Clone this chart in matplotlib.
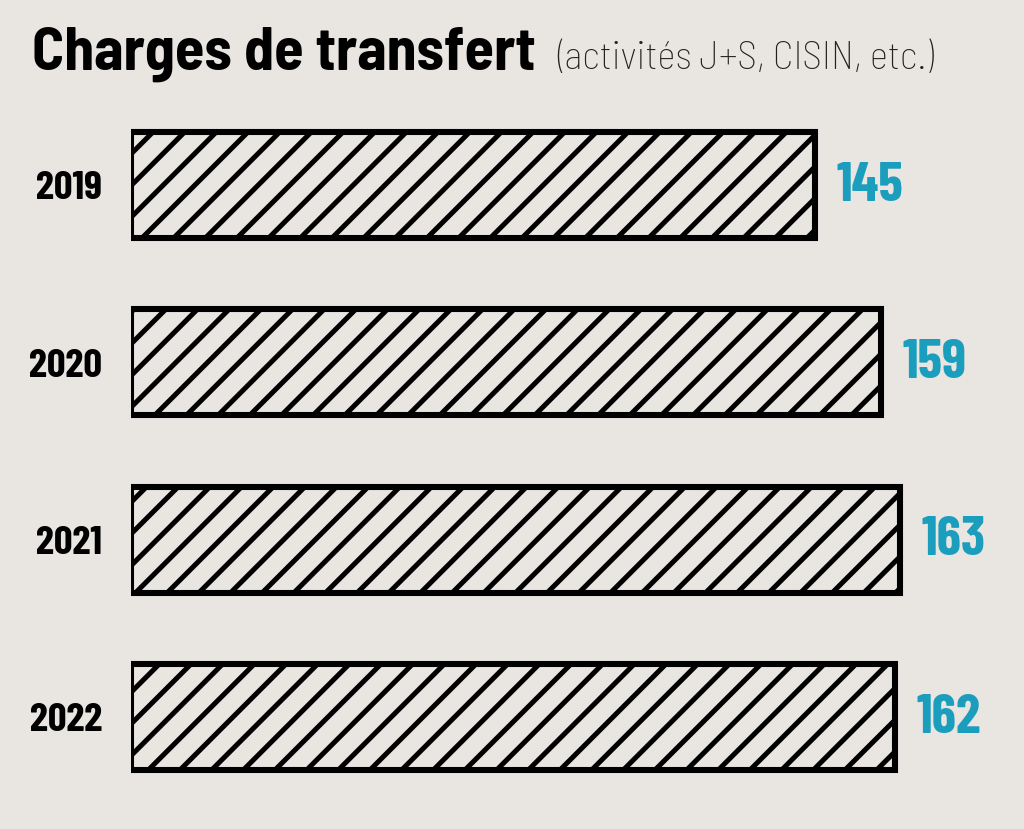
import matplotlib
matplotlib.use('Agg')
import matplotlib.pyplot as plt

# data
years = ['2019', '2020', '2021', '2022']
values = [145, 159, 163, 162]

bg = '#e9e5e1'
teal = '#1b9dbd'

plt.rcParams['hatch.linewidth'] = 1.9
plt.rcParams['font.family'] = ['Barlow Condensed', 'DejaVu Sans']
semi = ['Barlow Semi Condensed', 'DejaVu Sans']

dpi = 190
W, H = 1024, 829
fig = plt.figure(figsize=(W / dpi, H / dpi), dpi=dpi, facecolor=bg)

# axes: x=0 at pixel 131, full height
left = 131 / W
ax = fig.add_axes([left, 0, 1 - left, 1])
ax.set_facecolor(bg)
px_per_unit = (815 - 131) / 145.0
ax.set_xlim(0, (W - 131) / px_per_unit)
step = 177.33
ax.set_ylim((H - 185) / step, -185 / step)

pos = list(range(len(years)))
ax.barh(pos, values, height=106 / step, color=bg, edgecolor='black',
        linewidth=2.3, hatch='//')

for i, v in enumerate(values):
    ax.annotate(str(v), (v, i), xytext=(8, -0.5), textcoords='offset points',
                ha='left', va='center', color=teal, fontsize=21, fontweight='bold')
    ax.annotate(years[i], (0, i), xytext=(-11, -1.5), textcoords='offset points',
                ha='right', va='center', color='black', fontsize=15.5, fontweight='bold')

ax.axis('off')

fig.text(32 / W, 1 - 70 / H, 'Charges de transfert', ha='left', va='baseline',
         fontsize=22.8, fontweight='bold', color='black', family=semi)
fig.text(557 / W, 1 - 69 / H, '(activités J+S, CISIN, etc.)', ha='left', va='baseline',
         fontsize=14.9, fontweight='light', color='#222222', family=semi)

fig.savefig('out.png', dpi=dpi, facecolor=bg)
